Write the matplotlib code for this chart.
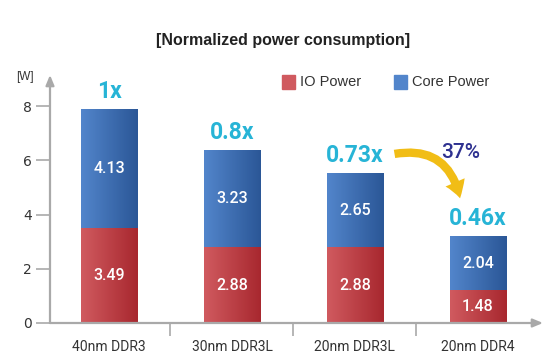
import numpy as np
import matplotlib
matplotlib.use("Agg")
import matplotlib.pyplot as plt
from matplotlib.patches import FancyArrowPatch, Rectangle
from matplotlib.colors import LinearSegmentedColormap

# data (bar heights as drawn, labels as printed)
categories = ["40nm DDR3", "30nm DDR3L", "20nm DDR3L", "20nm DDR4"]
io_power = [3.5, 2.8, 2.8, 1.22]
core_power = [4.4, 3.58, 2.73, 1.98]
io_labels = ["3.49", "2.88", "2.88", "1.48"]
core_labels = ["4.13", "3.23", "2.65", "2.04"]
ratio_labels = ["1x", "0.8x", "0.73x", "0.46x"]
saving_label = "37%"

RED_L, RED_R = "#d05a5f", "#a8282f"
BLUE_L, BLUE_R = "#5285cb", "#2b5797"
CYAN = "#27b4d6"
NAVY = "#2e3190"
GREY = "#a9a9a9"

fig = plt.figure(figsize=(5.53, 3.56), dpi=100)
W, H = 553, 356
ax = fig.add_axes([50 / W, (H - 323) / H, (543 - 50) / W, (323 - 75) / H])

x = np.arange(len(categories))
width = 0.46
io_bars = ax.bar(x, io_power, width, color=RED_R, zorder=2)
core_bars = ax.bar(x, core_power, width, bottom=io_power, color=BLUE_R, zorder=2)

# horizontal gradient inside each bar, lighter on the left
grad = np.linspace(0, 1, 64).reshape(1, -1)
for bars, (c0, c1) in ((io_bars, (RED_L, RED_R)), (core_bars, (BLUE_L, BLUE_R))):
    cmap = LinearSegmentedColormap.from_list("g", [c0, c1])
    for b in bars:
        x0, y0 = b.get_x(), b.get_y()
        im = ax.imshow(grad, cmap=cmap, aspect="auto", zorder=3,
                       extent=[x0, x0 + b.get_width(), y0, y0 + b.get_height()])
        im.set_clip_path(b)

ax.set_xlim(-0.48, 3.53)
ax.set_ylim(0, 9.15)

num_font = "Roboto"
for i in x:
    ax.text(i, io_power[i] / 2, io_labels[i], ha="center", va="center",
            color="white", fontsize=11.5, fontweight="medium",
            family=num_font, zorder=4)
    ax.text(i, io_power[i] + core_power[i] / 2, core_labels[i], ha="center",
            va="center", color="white", fontsize=11.5, fontweight="medium",
            family=num_font, zorder=4)
    ax.text(i, io_power[i] + core_power[i] + 0.64, ratio_labels[i], ha="center",
            va="center", color=CYAN, fontsize=16.5, fontweight="bold",
            family=num_font, zorder=4)

ax.text(2.86, 6.3, saving_label, ha="center", va="center", color=NAVY,
        fontsize=15, fontweight="medium", family=num_font)

arrow = FancyArrowPatch((2.3, 6.22), (2.86, 4.5),
                        connectionstyle="arc3,rad=-0.5",
                        arrowstyle="simple,head_width=15,head_length=12,tail_width=6",
                        color="#f1bd16", lw=0, zorder=5, mutation_scale=1)
ax.add_patch(arrow)

# axes: grey lines with arrow heads
for s in ax.spines.values():
    s.set_visible(False)
ax.annotate("", xy=(0, 1.0), xytext=(0, 0), xycoords="axes fraction",
            arrowprops=dict(arrowstyle="-|>,head_width=0.25,head_length=0.6",
                            color=GREY, lw=1.6, shrinkA=0, shrinkB=0))
ax.annotate("", xy=(1.0, 0), xytext=(0, 0), xycoords="axes fraction",
            arrowprops=dict(arrowstyle="-|>,head_width=0.25,head_length=0.6",
                            color=GREY, lw=1.6, shrinkA=0, shrinkB=0))

ax.set_yticks([0, 2, 4, 6, 8])
ax.tick_params(axis="y", length=10, width=1.2, color=GREY, labelsize=10,
               labelcolor="#333333", pad=3)
ax.set_xticks(x)
ax.set_xticklabels(categories, family=num_font, fontsize=10, color="#333333")
ax.set_xticks([0.5, 1.5, 2.5], minor=True)
ax.tick_params(axis="x", which="major", length=0, pad=12)
ax.tick_params(axis="x", which="minor", length=9, width=1.2, color=GREY)

fig.text(25 / W, 1 - 77 / H, "[W]", ha="center", va="center", fontsize=8.5,
         color="#333333", family="Liberation Sans")
fig.text(283 / W, 1 - 40 / H, "[Normalized power consumption]", ha="center",
         va="center", fontsize=11.5, fontweight="bold", color="#222222",
         family="Liberation Sans")

# legend drawn by hand at its place in the picture
for (lx, txt, c) in ((282, "IO Power", RED_L), (394, "Core Power", BLUE_L)):
    fig.patches.append(Rectangle((lx / W, 1 - 89 / H), 13 / W, 14 / H,
                                 transform=fig.transFigure, color=c))
    fig.text((lx + 18) / W, 1 - 82 / H, txt, ha="left", va="center",
             fontsize=10.5, color="#333333", family="Liberation Sans")

fig.savefig("out.png", dpi=100)
